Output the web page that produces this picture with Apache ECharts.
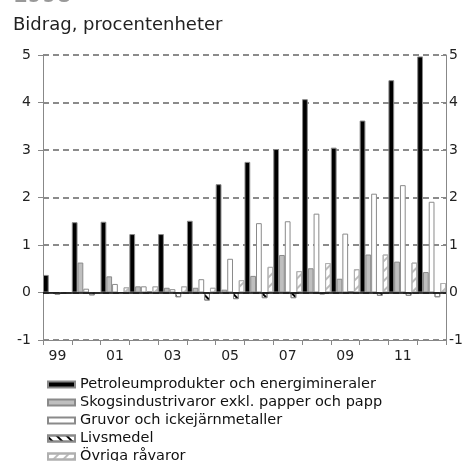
<!DOCTYPE html>
<html>
<head>
<meta charset="utf-8">
<script src="https://cdn.jsdelivr.net/npm/echarts@6/dist/echarts.min.js"></script>
<style>
  html, body { margin: 0; padding: 0; background: #fff; }
  #chart { width: 472px; height: 461px; }
</style>
</head>
<body>
<div id="chart"></div>
<script>
var years = ['99', '00', '01', '02', '03', '04', '05', '06', '07', '08', '09', '10', '11', '12'];
var petroleum = [0.37, 1.48, 1.49, 1.23, 1.23, 1.51, 2.28, 2.75, 3.02, 4.07, 3.05, 3.62, 4.47, 4.97];
var skog = [0.0, 0.63, 0.34, 0.13, 0.1, 0.1, 0.06, 0.35, 0.79, 0.51, 0.29, 0.8, 0.65, 0.43];
var gruvor = [-0.05, 0.08, 0.18, 0.13, 0.07, 0.28, 0.71, 1.46, 1.5, 1.66, 1.24, 2.08, 2.26, 1.91];
var livsmedel = [-0.03, -0.06, 0.0, 0.02, -0.1, -0.17, -0.14, -0.12, -0.12, -0.04, 0.03, -0.07, -0.07, -0.1];
var ovriga = [-0.02, -0.02, 0.11, 0.13, 0.13, 0.1, 0.26, 0.54, 0.45, 0.62, 0.49, 0.8, 0.63, 0.2];
var seriesNames = [
  'Petroleumprodukter och energimineraler',
  'Skogsindustrivaror exkl. papper och papp',
  'Gruvor och ickejärnmetaller',
  'Livsmedel',
  'Övriga råvaror'
];
var yTicks = [-1, 0, 1, 2, 3, 4, 5];

var font = 'DejaVu Sans';

function bar(name, data, style) {
  return {
    name: name,
    type: 'bar',
    yAxisIndex: 0,
    data: data,
    barGap: '0%',
    barCategoryGap: '0%',
    itemStyle: style
  };
}

var series = [
  bar(seriesNames[0], petroleum, { color: '#000', borderColor: '#888', borderWidth: 1 }),
  bar(seriesNames[1], skog, { color: '#bfbfbf', borderColor: '#8a8a8a', borderWidth: 1 }),
  bar(seriesNames[2], gruvor, { color: '#fff', borderColor: '#8a8a8a', borderWidth: 1 }),
  bar(seriesNames[3], livsmedel, {
    color: '#fff', borderColor: '#8a8a8a', borderWidth: 1,
    decal: { symbol: 'rect', symbolSize: 1, color: '#000', dashArrayX: [1, 0], dashArrayY: [1.3, 4.5], rotation: Math.PI / 4 }
  }),
  bar(seriesNames[4], ovriga, {
    color: '#fff', borderColor: '#b0b0b0', borderWidth: 1,
    decal: { symbol: 'rect', symbolSize: 1, color: '#bbb', dashArrayX: [1, 0], dashArrayY: [1.3, 4.5], rotation: -Math.PI / 4 }
  })
];

// zero line
series[0].markLine = {
  silent: true,
  symbol: 'none',
  label: { show: false },
  lineStyle: { color: '#000', type: 'solid', width: 1.5 },
  data: [{ yAxis: 0 }]
};

var yAxisCommon = {
  type: 'value',
  min: yTicks[0],
  max: yTicks[yTicks.length - 1],
  interval: 1,
  axisLine: { show: true, lineStyle: { color: '#888', width: 1 } }
};

var chart = echarts.init(document.getElementById('chart'), null, { renderer: 'canvas' });
chart.setOption({
  animation: false,
  backgroundColor: '#fff',
  graphic: [
    { type: 'text', x: 13, y: 7, style: { text: '1998', font: 'bold 21px "DejaVu Sans"', fill: '#999', verticalAlign: 'bottom' } },
    { type: 'text', x: 13, y: 16, style: { text: 'Bidrag, procentenheter', font: '18px "DejaVu Sans"', fill: '#222' } }
  ],
  grid: { left: 43, right: 26, top: 55, bottom: 121 },
  legend: {
    orient: 'vertical',
    left: 47,
    top: 377,
    height: 110,
    padding: 0,
    icon: 'rect',
    itemWidth: 27,
    itemHeight: 6,
    itemGap: 3,
    textStyle: { color: '#111', fontFamily: font, fontSize: 14.5 },
    data: seriesNames
  },
  xAxis: {
    type: 'category',
    data: years,
    axisLine: { onZero: false, lineStyle: { color: '#888' } },
    axisTick: { show: true, interval: 0, length: 5, lineStyle: { color: '#888' } },
    axisLabel: { interval: 1, color: '#222', fontFamily: font, fontSize: 14, margin: 9 },
    splitLine: { show: false }
  },
  yAxis: [
    Object.assign({}, yAxisCommon, {
      position: 'left',
      axisTick: { show: true, length: 5, lineStyle: { color: '#888' } },
      axisLabel: { color: '#222', fontFamily: font, fontSize: 14, margin: 12 },
      splitLine: { show: true, lineStyle: { color: '#666', type: [6, 4], width: 1.5 } }
    }),
    Object.assign({}, yAxisCommon, {
      position: 'right',
      axisTick: { show: true, inside: true, length: 5, lineStyle: { color: '#888' } },
      axisLabel: { color: '#222', fontFamily: font, fontSize: 14, margin: 3 },
      splitLine: { show: false }
    })
  ],
  series: series
});
</script>
</body>
</html>
